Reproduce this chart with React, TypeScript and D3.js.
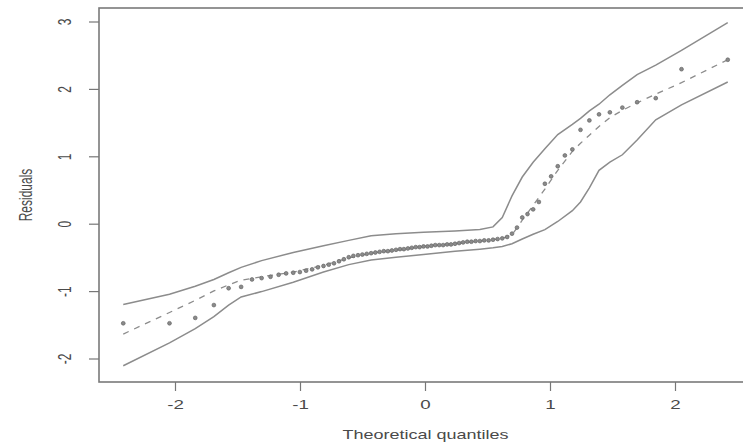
import { useEffect, useRef } from 'react';
import { select, scaleLinear, line } from 'd3';

// theoretical normal quantiles of the 80 residuals
const theoQ = [
  -2.418, -2.048, -1.842, -1.693, -1.575, -1.475, -1.388, -1.311, -1.24, -1.175,
  -1.115, -1.058, -1.005, -0.955, -0.907, -0.861, -0.816, -0.774, -0.732, -0.692,
  -0.653, -0.614, -0.577, -0.54, -0.505, -0.47, -0.435, -0.401, -0.367, -0.334,
  -0.301, -0.269, -0.236, -0.204, -0.173, -0.141, -0.11, -0.078, -0.047, -0.016,
  0.016, 0.047, 0.078, 0.11, 0.141, 0.173, 0.204, 0.236, 0.269, 0.301,
  0.334, 0.367, 0.401, 0.435, 0.47, 0.505, 0.54, 0.577, 0.614, 0.653,
  0.692, 0.732, 0.774, 0.816, 0.861, 0.907, 0.955, 1.005, 1.058, 1.115,
  1.175, 1.24, 1.311, 1.388, 1.475, 1.575, 1.693, 1.842, 2.048, 2.418,
];

// sorted residuals
const residuals = [
  -1.47, -1.47, -1.39, -1.2, -0.95, -0.93, -0.82, -0.8, -0.78, -0.75,
  -0.73, -0.72, -0.71, -0.69, -0.67, -0.64, -0.62, -0.6, -0.58, -0.55,
  -0.52, -0.49, -0.47, -0.46, -0.45, -0.44, -0.43, -0.42, -0.41, -0.4,
  -0.4, -0.39, -0.38, -0.37, -0.37, -0.36, -0.35, -0.34, -0.34, -0.33,
  -0.33, -0.32, -0.31, -0.31, -0.31, -0.3, -0.3, -0.29, -0.28, -0.27,
  -0.26, -0.26, -0.25, -0.25, -0.24, -0.24, -0.23, -0.22, -0.21, -0.19,
  -0.14, -0.05, 0.1, 0.15, 0.22, 0.33, 0.6, 0.71, 0.86, 1.02,
  1.11, 1.4, 1.54, 1.63, 1.66, 1.73, 1.81, 1.87, 2.3, 2.44,
];

// simulated envelope (lower, median, upper) at a subset of quantiles
const envQ = [
  -2.418, -2.048, -1.842, -1.693, -1.575, -1.475, -1.311, -1.058, -0.816, -0.614,
  -0.435, -0.236, -0.016, 0.236, 0.435, 0.54, 0.614, 0.692, 0.774, 0.861,
  0.955, 1.058, 1.175, 1.24, 1.311, 1.388, 1.475, 1.575, 1.693, 1.842,
  2.048, 2.418,
];
const envLower = [
  -2.1, -1.76, -1.55, -1.37, -1.2, -1.08, -1.0, -0.86, -0.71, -0.6,
  -0.53, -0.49, -0.45, -0.4, -0.37, -0.35, -0.33, -0.29, -0.22, -0.15,
  -0.08, 0.04, 0.2, 0.33, 0.54, 0.8, 0.92, 1.03, 1.25, 1.55,
  1.77, 2.11,
];
const envMedian = [
  -1.63, -1.31, -1.13, -0.99, -0.9, -0.83, -0.78, -0.71, -0.61, -0.5,
  -0.43, -0.38, -0.33, -0.29, -0.25, -0.23, -0.21, -0.16, 0.06, 0.28,
  0.52, 0.8, 1.08, 1.2, 1.32, 1.45, 1.58, 1.69, 1.8, 1.93,
  2.1, 2.44,
];
const envUpper = [
  -1.19, -1.04, -0.92, -0.82, -0.72, -0.64, -0.54, -0.42, -0.32, -0.24,
  -0.17, -0.14, -0.12, -0.1, -0.08, -0.04, 0.1, 0.42, 0.7, 0.92,
  1.12, 1.33, 1.48, 1.57, 1.68, 1.78, 1.92, 2.06, 2.22, 2.36,
  2.58, 2.99,
];

const xTicks = [-2, -1, 0, 1, 2];
const yTicks = [-2, -1, 0, 1, 2, 3];

const W = 743;
const H = 442;
const frame = { left: 99, right: 752, top: 8, bottom: 382 };
const GREY = '#8c8c8c';
const TEXT = '#4a4a4a';
const FONT = '"Liberation Sans", Arial, sans-serif';

const QQEnvelope = () => {
  const svgRef = useRef<SVGSVGElement>(null);

  useEffect(() => {
    const svg = select(svgRef.current);
    svg.selectAll('*').remove();

    const xScale = scaleLinear().domain([-2, 2]).range([175.5, 675.5]);
    const yScale = scaleLinear().domain([-2, 3]).range([359, 22]);

    const lineGen = line<[number, number]>()
      .x((d) => xScale(d[0]))
      .y((d) => yScale(d[1]));

    const pairs = (ys: number[]) => envQ.map((q, i) => [q, ys[i]] as [number, number]);

    // frame
    svg
      .append('rect')
      .attr('x', frame.left)
      .attr('y', frame.top)
      .attr('width', frame.right - frame.left)
      .attr('height', frame.bottom - frame.top)
      .attr('fill', 'none')
      .attr('stroke', '#7a7a7a')
      .attr('stroke-width', 1.6);

    // envelope lines
    [envLower, envUpper].forEach((ys) => {
      svg
        .append('path')
        .attr('d', lineGen(pairs(ys)))
        .attr('fill', 'none')
        .attr('stroke', GREY)
        .attr('stroke-width', 1.5);
    });

    svg
      .append('path')
      .attr('d', lineGen(pairs(envMedian)))
      .attr('fill', 'none')
      .attr('stroke', GREY)
      .attr('stroke-width', 1.3)
      .attr('stroke-dasharray', '6,6');

    // observed residuals
    svg
      .selectAll('.pt')
      .data(theoQ.map((q, i) => [q, residuals[i]]))
      .join('circle')
      .attr('class', 'pt')
      .attr('cx', (d) => xScale(d[0]))
      .attr('cy', (d) => yScale(d[1]))
      .attr('r', 1.9)
      .attr('fill', '#8a8a8a')
      .attr('stroke', '#666')
      .attr('stroke-width', 0.7);

    // x axis
    const xAxis = svg.append('g');
    xTicks.forEach((t) => {
      const x = xScale(t);
      xAxis
        .append('line')
        .attr('x1', x)
        .attr('x2', x)
        .attr('y1', frame.bottom)
        .attr('y2', frame.bottom + 9)
        .attr('stroke', '#777')
        .attr('stroke-width', 1.2);
      xAxis
        .append('text')
        .attr('transform', `translate(${x},${frame.bottom + 27}) scale(1.5,1)`)
        .attr('text-anchor', 'middle')
        .attr('font-family', FONT)
        .attr('font-size', 12.5)
        .attr('fill', TEXT)
        .text(t < 0 ? `-${-t}` : `${t}`);
    });

    // y axis
    const yAxis = svg.append('g');
    yTicks.forEach((t) => {
      const y = yScale(t);
      yAxis
        .append('line')
        .attr('x1', frame.left - 10)
        .attr('x2', frame.left)
        .attr('y1', y)
        .attr('y2', y)
        .attr('stroke', '#777')
        .attr('stroke-width', 1.2);
      yAxis
        .append('text')
        .attr('transform', `translate(${frame.left - 28},${y}) scale(1.5,1) rotate(-90)`)
        .attr('text-anchor', 'middle')
        .attr('font-family', FONT)
        .attr('font-size', 12)
        .attr('fill', TEXT)
        .text(t < 0 ? `-${-t}` : `${t}`);
    });

    // axis titles
    svg
      .append('text')
      .attr('transform', `translate(${(frame.left + frame.right) / 2},${439}) scale(1.5,1)`)
      .attr('text-anchor', 'middle')
      .attr('font-family', FONT)
      .attr('font-size', 12)
      .attr('fill', TEXT)
      .text('Theoretical quantiles');

    svg
      .append('text')
      .attr('transform', `translate(32,${(frame.top + frame.bottom) / 2}) scale(1.5,1) rotate(-90)`)
      .attr('text-anchor', 'middle')
      .attr('font-family', FONT)
      .attr('font-size', 12)
      .attr('fill', TEXT)
      .text('Residuals');
  }, []);

  return (
    <div style={{ position: 'absolute', left: 0, top: 0, width: W, height: H, background: '#fff' }}>
      <svg ref={svgRef} width={W} height={H} style={{ display: 'block' }} />
    </div>
  );
};

export default function App() {
  return <QQEnvelope />;
}
